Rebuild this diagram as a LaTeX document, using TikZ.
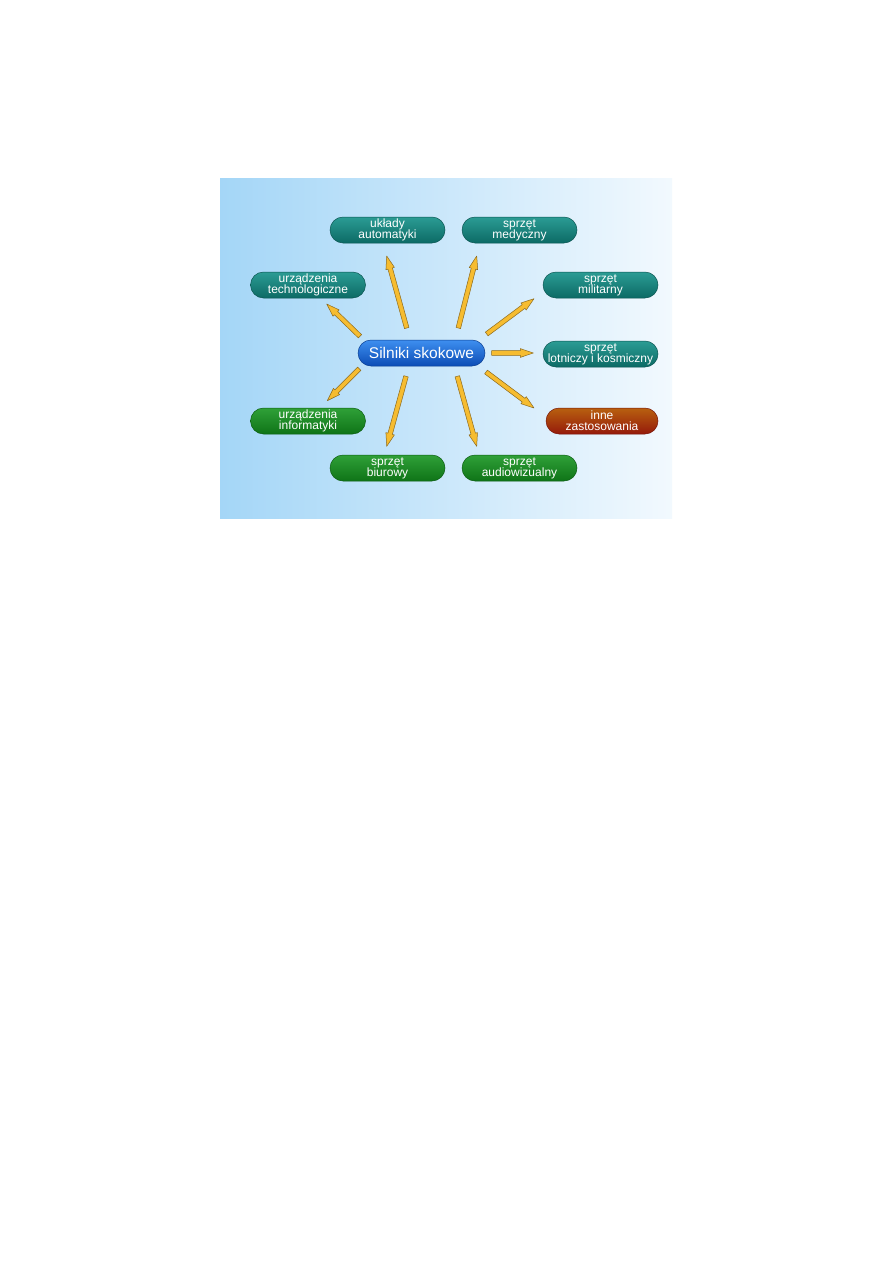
\documentclass[tikz,border=0pt]{standalone}
\usepackage{fontspec}
\setmainfont{Liberation Sans}
\usetikzlibrary{calc}
\definecolor{SkyL}{HTML}{A4D6F7}
\definecolor{SkyR}{HTML}{F2F9FE}
\definecolor{TealTop}{HTML}{2B9C94}
\definecolor{TealBot}{HTML}{0C6A65}
\definecolor{GreenTop}{HTML}{2FA038}
\definecolor{GreenBot}{HTML}{0F7417}
\definecolor{RedTop}{HTML}{B8600F}
\definecolor{RedBot}{HTML}{951A0B}
\definecolor{BlueTop}{HTML}{3E8FF0}
\definecolor{BlueBot}{HTML}{0B4CB5}
\definecolor{Gold}{HTML}{F6BC30}
\definecolor{GoldEdge}{HTML}{8C6A1E}
\tikzset{
  app/.style={rounded corners=13pt,minimum width=115pt,minimum height=26pt,inner sep=0pt,align=center,text=white,font=\fontsize{12}{11.2}\selectfont,line width=0.5pt},
  appteal/.style={app,draw=TealBot!80!black,top color=TealTop,bottom color=TealBot},
  appgreen/.style={app,draw=GreenBot!80!black,top color=GreenTop,bottom color=GreenBot},
  appred/.style={app,draw=RedBot!80!black,top color=RedTop,bottom color=RedBot,minimum width=112pt},
  hub/.style={app,draw=BlueBot!80!black,top color=BlueTop,bottom color=BlueBot,minimum width=127pt,font=\fontsize{15.5}{16}\selectfont},
  fatarrow/.style={fill=Gold,draw=GoldEdge,line width=0.5pt,line join=round}
}
% yellow arrow from #1 to the tip #2
\newcommand\fatarrow[2]{%
  \coordinate (neck) at ($(#2)!13pt!(#1)$);
  \filldraw[fatarrow] ($(#1)!2.3pt!90:(#2)$) -- ($(neck)!2.3pt!90:(#2)$) -- ($(neck)!4.4pt!90:(#2)$) -- (#2)
    -- ($(neck)!4.4pt!-90:(#2)$) -- ($(neck)!2.3pt!-90:(#2)$) -- ($(#1)!2.3pt!-90:(#2)$) -- cycle;}

\begin{document}
\begin{tikzpicture}[x=1pt,y=-1pt]
  \useasboundingbox (0,0) rectangle (893,1263);
  \fill[white] (0,0) rectangle (893,1263);
  \shade[left color=SkyL,right color=SkyR] (220,178) rectangle (672,518);

  \node[hub] (hub) at (421.5,353) {Silniki skokowe};

  \node[appteal] (auto) at (387.5,230) {układy\\automatyki};
  \node[appteal] (med) at (519.5,230) {sprzęt\\medyczny};
  \node[appteal] (tech) at (308,285) {urządzenia\\technologiczne};
  \node[appteal] (mil) at (600.5,285) {sprzęt\\militarny};
  \node[appteal] (lot) at (600.5,354) {sprzęt\\lotniczy i kosmiczny};
  \node[appgreen] (inf) at (308,421) {urządzenia\\informatyki};
  \node[appred] (inne) at (602,421) {inne\\zastosowania};
  \node[appgreen] (biur) at (387.5,468) {sprzęt\\biurowy};
  \node[appgreen] (audio) at (519.5,468) {sprzęt\\audiowizualny};

  % arrow ends
  \coordinate (sAuto) at (406.7,328);   \coordinate (tAuto) at (386.7,256);
  \coordinate (sMed) at (458.3,328);    \coordinate (tMed) at (476.7,256);
  \coordinate (sTech) at (360,336.3);   \coordinate (tTech) at (326.7,304);
  \coordinate (sMil) at (486.7,334);    \coordinate (tMil) at (534,298.7);
  \coordinate (sLot) at (491.7,353);    \coordinate (tLot) at (533.3,353);
  \coordinate (sInf) at (359.3,368.7);  \coordinate (tInf) at (327.3,400.7);
  \coordinate (sInne) at (486,372);     \coordinate (tInne) at (534,408);
  \coordinate (sBiur) at (406,376.3);   \coordinate (tBiur) at (386.7,446.3);
  \coordinate (sAudio) at (457.3,376.3);\coordinate (tAudio) at (476.7,446.3);

  \fatarrow{sAuto}{tAuto}
  \fatarrow{sMed}{tMed}
  \fatarrow{sTech}{tTech}
  \fatarrow{sMil}{tMil}
  \fatarrow{sLot}{tLot}
  \fatarrow{sInf}{tInf}
  \fatarrow{sInne}{tInne}
  \fatarrow{sBiur}{tBiur}
  \fatarrow{sAudio}{tAudio}
\end{tikzpicture}
\end{document}
